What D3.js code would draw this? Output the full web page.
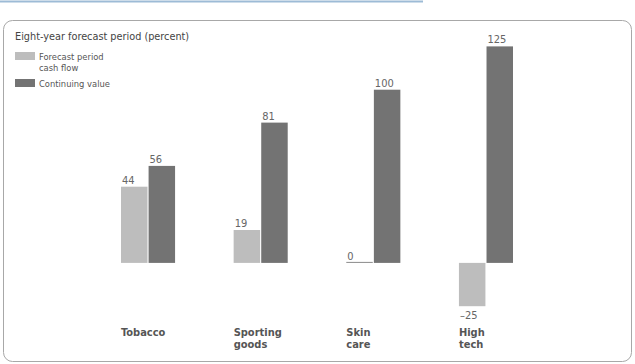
<!DOCTYPE html>
<html>
<head>
<meta charset="utf-8">
<script src="https://cdn.jsdelivr.net/npm/d3@7"></script>
<style>
  body { margin: 0; background: white; }
  text { font-family: "Liberation Sans Narrow", "DejaVu Sans Condensed", "Roboto", sans-serif; }
</style>
</head>
<body>
<div id="chart-area"></div>
<script>
// data
const categories = ["Tobacco", "Sporting goods", "Skin care", "High tech"]
const categoryLines = [["Tobacco"], ["Sporting", "goods"], ["Skin", "care"], ["High", "tech"]]
const series = ["Forecast period cash flow", "Continuing value"]
const forecastCashFlow = [44, 19, 0, -25]
const continuingValue = [56, 81, 100, 125]

const W = 635, H = 364
const colors = {light: "#bdbdbd", dark: "#737373"}

const svg = d3.select("#chart-area").append("svg")
    .attr("width", W)
    .attr("height", H)

// blue rule at the top
svg.append("line")
    .attr("x1", 0).attr("x2", 423)
    .attr("y1", 1.5).attr("y2", 1.5)
    .attr("stroke", "#9dbbd6")
    .attr("stroke-width", 2)

// frame
svg.append("rect")
    .attr("x", 3.5).attr("y", 20.5)
    .attr("width", 628).attr("height", 341)
    .attr("rx", 9)
    .attr("fill", "none")
    .attr("stroke", "#a8a8a8")

// title
svg.append("text")
    .attr("x", 15).attr("y", 40)
    .attr("font-size", "10.8px")
    .attr("fill", "#444")
    .text("Eight-year forecast period (percent)")

// legend
const legend = svg.append("g").attr("transform", "translate(15, 52)")
legend.append("rect").attr("x", 0).attr("y", 0).attr("width", 20).attr("height", 8).attr("fill", colors.light)
legend.append("text").attr("x", 24).attr("y", 8).attr("font-size", "9.3px").attr("fill", "#555").text("Forecast period")
legend.append("text").attr("x", 24).attr("y", 19).attr("font-size", "9.3px").attr("fill", "#555").text("cash flow")
legend.append("rect").attr("x", 0).attr("y", 27).attr("width", 20).attr("height", 8).attr("fill", colors.dark)
legend.append("text").attr("x", 24).attr("y", 35).attr("font-size", "9.3px").attr("fill", "#555").text("Continuing value")

// scales
const x0 = d3.scaleBand()
    .domain(categories)
    .range([121, 513])
    .paddingInner(0.52)
    .paddingOuter(0)

const x1 = d3.scaleBand()
    .domain(series)
    .range([0, x0.bandwidth()])
    .paddingInner(0.04)

const y = d3.scaleLinear()
    .domain([-25, 125])
    .range([306.2, 46.4])

const rows = categories.map((c, i) => ({
    category: c,
    lines: categoryLines[i],
    values: [
        {key: series[0], value: forecastCashFlow[i], color: colors.light},
        {key: series[1], value: continuingValue[i], color: colors.dark}
    ]
}))

const groups = svg.selectAll("g.group")
    .data(rows)
    .join("g")
    .attr("class", "group")
    .attr("transform", d => `translate(${x0(d.category)}, 0)`)

// bars
groups.selectAll("rect")
    .data(d => d.values.filter(v => v.value !== 0))
    .join("rect")
    .attr("x", d => x1(d.key))
    .attr("width", x1.bandwidth())
    .attr("y", d => y(Math.max(0, d.value)))
    .attr("height", d => Math.abs(y(d.value) - y(0)))
    .attr("fill", d => d.color)

// zero-value bars shown as a thin line
groups.selectAll("line.zero")
    .data(d => d.values.filter(v => v.value === 0))
    .join("line")
    .attr("class", "zero")
    .attr("x1", d => x1(d.key))
    .attr("x2", d => x1(d.key) + x1.bandwidth())
    .attr("y1", y(0) - 0.5)
    .attr("y2", y(0) - 0.5)
    .attr("stroke", "#8a8a8a")
    .attr("stroke-width", 1)

// value labels
groups.selectAll("text.value")
    .data(d => d.values)
    .join("text")
    .attr("class", "value")
    .attr("x", d => x1(d.key) + 1)
    .attr("y", d => d.value < 0 ? y(d.value) + 13 : y(d.value) - 3)
    .attr("font-size", "11px")
    .attr("fill", "#666")
    .text(d => d.value < 0 ? "\u2013" + Math.abs(d.value) : d.value)

// category labels
groups.append("text")
    .attr("class", "category")
    .attr("x", 0)
    .attr("y", 336)
    .attr("font-size", "11px")
    .attr("font-weight", "bold")
    .attr("fill", "#555")
    .selectAll("tspan")
    .data(d => d.lines)
    .join("tspan")
    .attr("x", 0)
    .attr("dy", (d, i) => i === 0 ? 0 : 12)
    .text(d => d)
</script>
</body>
</html>
